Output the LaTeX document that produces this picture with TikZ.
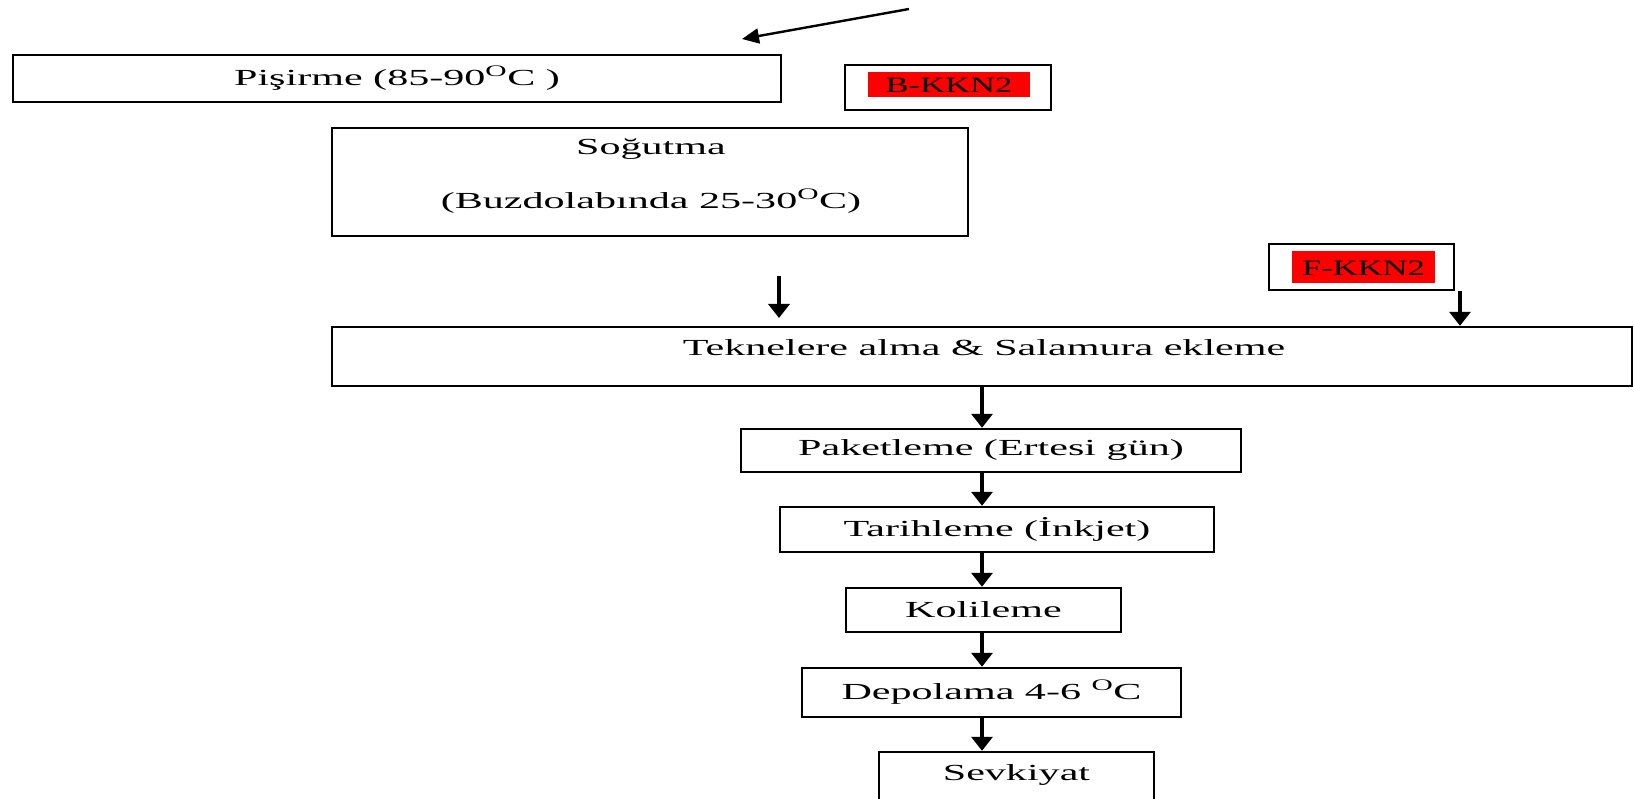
\documentclass[tikz,border=0pt]{standalone}
\usepackage{fontspec}
\setmainfont{Liberation Serif}
\newfontfamily\mf{Liberation Serif}[FakeStretch=1.83]
\newfontfamily\kf{Liberation Serif}[FakeStretch=1.57]
\usetikzlibrary{arrows.meta}
\begin{document}
\begin{tikzpicture}[x=1pt,y=-1pt,
  box/.style={draw=black,line width=2.4pt,inner sep=0pt,fill=white},
  txt/.style={inner sep=0pt,font=\mf\fontsize{23}{27}\selectfont},
  ktxt/.style={inner sep=0pt,font=\kf\fontsize{22}{26}\selectfont},
  redfill/.style={fill=red,inner sep=0pt},
  arr/.style={line width=3.4pt,-{Triangle[width=21pt,length=14pt]}},
  arrthin/.style={line width=2.4pt,-{Triangle[width=15pt,length=17pt]}}]
\useasboundingbox (0,0) rectangle (1634,799);
% top arrow
\coordinate (ta1) at (909,9);
\coordinate (ta2) at (742,39);
\draw[arrthin] (ta1) -- (ta2);
% Pisirme
\node[box,minimum width=768pt,minimum height=47pt] (pis) at (397,78.5) {};
\node[txt] (pist) at (397,78.5) {Pişirme (85-90\textsuperscript{O}C )};
% B-KKN2
\node[box,minimum width=206pt,minimum height=45pt] (bk) at (948,87.5) {};
\node[redfill,minimum width=162pt,minimum height=25pt] (bkr) at (949,84.5) {};
\node[ktxt] (bkt) at (949,85) {B-KKN2};
% Sogutma
\node[box,minimum width=636pt,minimum height=108pt] (sog) at (650,182) {};
\node[txt] (sog1) at (651,149) {Soğutma};
\node[txt] (sog2) at (651,201) {(Buzdolabında 25-30\textsuperscript{O}C)};
% F-KKN2
\node[box,minimum width=185pt,minimum height=46pt] (fk) at (1361.5,267) {};
\node[redfill,minimum width=143pt,minimum height=32pt] (fkr) at (1363.5,267.5) {};
\node[ktxt] (fkt) at (1363.5,268) {F-KKN2};
% Teknelere
\node[box,minimum width=1300pt,minimum height=59pt] (tek) at (982,356.5) {};
\node[txt] (tekt) at (984,348) {Teknelere alma \& Salamura ekleme};
% chain
\node[box,minimum width=500pt,minimum height=43pt,txt] (pak) at (991,450.5) {Paketleme (Ertesi gün)};
\node[box,minimum width=434pt,minimum height=45pt,txt] (tar) at (997,529.5) {Tarihleme (İnkjet)};
\node[box,minimum width=275pt,minimum height=44pt,txt] (kol) at (983.5,610) {Kolileme};
\node[box,minimum width=379pt,minimum height=49pt,txt] (dep) at (991.5,692.5) {Depolama 4-6 \textsuperscript{O}C};
\node[box,minimum width=275pt,minimum height=50pt] (sev) at (1016.5,777) {};
\node[txt] (sevt) at (1016.5,775) {Sevkiyat};
% arrows
\coordinate (la1) at (779,276);
\coordinate (la2) at (779,318);
\draw[arr] (la1) -- (la2);
\coordinate (ax) at (1460,0);
\draw[arr] (fk.south -| ax) -- (tek.north -| ax);
\coordinate (cx) at (982,0);
\draw[arr] (tek.south -| cx) -- (pak.north -| cx);
\draw[arr] (pak.south -| cx) -- (tar.north -| cx);
\draw[arr] (tar.south -| cx) -- (kol.north -| cx);
\draw[arr] (kol.south -| cx) -- (dep.north -| cx);
\draw[arr] (dep.south -| cx) -- (sev.north -| cx);
\end{tikzpicture}
\end{document}
